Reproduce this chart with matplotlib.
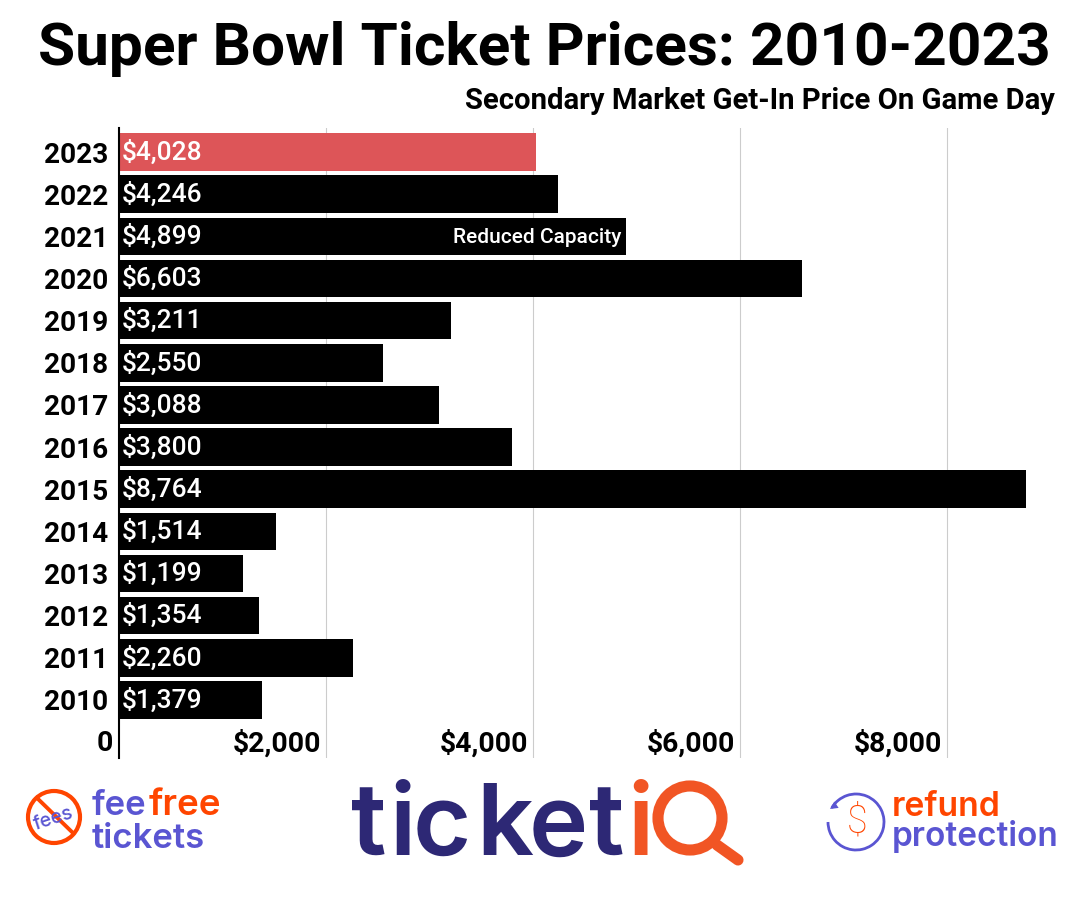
import matplotlib
matplotlib.use("Agg")
import matplotlib.pyplot as plt
from matplotlib.patches import Arc, Circle, FancyArrowPatch

years = [2023, 2022, 2021, 2020, 2019, 2018, 2017, 2016, 2015, 2014, 2013, 2012, 2011, 2010]
prices = [4028, 4246, 4899, 6603, 3211, 2550, 3088, 3800, 8764, 1514, 1199, 1354, 2260, 1379]
x_ticks = [2000, 4000, 6000, 8000]
x_tick_labels = ["$2,000", "$4,000", "$6,000", "$8,000"]

W, H = 1087, 900
BLUE = "#5a55d2"
ORANGE = "#ff4500"
NAVY = "#2d2875"
IQ_ORANGE = "#f15524"
LOGO_FONT = "Inter"

plt.rcParams["font.family"] = ["Roboto", "DejaVu Sans"]

fig = plt.figure(figsize=(W / 100, H / 100), dpi=100)

# main axes, placed in pixels
left, right, top, bottom = 119, 1060, 128, 758
ax = fig.add_axes([left / W, 1 - bottom / H, (right - left) / W, (bottom - top) / H])
ax.set_xlim(0, (right - left) / 0.1035)
ax.set_ylim(-1.376, 13.57)

positions = [y - 2010 for y in years]
colors = ["#dd5558" if y == 2023 else "black" for y in years]
ax.barh(positions, prices, height=0.89, color=colors, zorder=2)

ax.set_xticks(x_ticks)
ax.set_xticklabels([])
ax.set_yticks(positions)
ax.set_yticklabels(years, fontsize=20.2, fontweight="bold")
ax.tick_params(axis="y", length=0, pad=7.5)
ax.tick_params(axis="x", length=0)
ax.grid(axis="x", color="#cccccc", linewidth=0.8, zorder=0)
ax.set_axisbelow(True)
for side in ["top", "right", "bottom"]:
    ax.spines[side].set_visible(False)
ax.spines["left"].set_linewidth(1.5)

# price labels inside the bars
for pos, price in zip(positions, prices):
    ax.annotate("${:,}".format(price), (0, pos), xytext=(2, 0), textcoords="offset points",
                color="white", fontsize=19, fontweight="medium", va="center", ha="left", zorder=3)
ax.annotate("Reduced Capacity", (prices[2], positions[2]), xytext=(-3.5, -0.7), textcoords="offset points",
            color="white", fontsize=15, fontweight="medium", va="center", ha="right", zorder=3)

# x tick labels sit inside the plot, to the left of each grid line
for tick, label in zip(x_ticks, x_tick_labels):
    ax.annotate(label, (tick, -1), xytext=(-3.5, -0.7), textcoords="offset points",
                fontsize=20.4, fontweight="bold", va="center", ha="right", zorder=3)
ax.annotate("0", (0, -1), xytext=(-4, -0.7), textcoords="offset points", fontsize=20.4,
            fontweight="bold", va="center", ha="right", annotation_clip=False)

# overlay in pixel coords for titles and logos
ov = fig.add_axes([0, 0, 1, 1], zorder=5)
ov.set_xlim(0, W)
ov.set_ylim(H, 0)
ov.axis("off")
ov.patch.set_alpha(0)

ov.text(544, 49, "Super Bowl Ticket Prices: 2010-2023", fontsize=43.5, fontweight="bold",
        ha="center", va="center")
ov.text(1055, 101, "Secondary Market Get-In Price On Game Day", fontsize=21.1, fontweight="bold",
        ha="right", va="center")


def logo_text(x, y, s, size, color, weight="semibold", **kw):
    ov.text(x, y, s, fontsize=size, color=color, fontfamily=LOGO_FONT, fontweight=weight,
            ha="left", va="baseline", **kw)


# feefree tickets logo
ov.add_patch(Circle((54, 817), 26, fill=False, edgecolor=ORANGE, linewidth=3))
ov.plot([37, 73], [798, 833], color=ORANGE, linewidth=2.8)
ov.text(54, 819, "fees", fontsize=14, color=BLUE, fontfamily=LOGO_FONT, fontweight="medium",
        rotation=18, ha="center", va="center")
logo_text(92, 815, "fee", 25, BLUE)
logo_text(149, 815, "free", 26.5, ORANGE)
logo_text(92, 848, "tickets", 25, BLUE)

# ticketiQ logo, letter by letter because the wordmark is spaced wider than the font
for x, letter in zip([351, 389, 413, 476, 529, 589], "ticket"):
    logo_text(x, 855, letter, 72, NAVY)
logo_text(627, 855, "i", 72, IQ_ORANGE)
ov.add_patch(Circle((690, 818), 32, fill=False, edgecolor=IQ_ORANGE, linewidth=8))
ov.plot([717, 738], [845, 860], color=IQ_ORANGE, linewidth=8, solid_capstyle="round")

# refund protection logo
ov.add_patch(Arc((856, 822), 56, 56, theta1=-150, theta2=180, color=BLUE, linewidth=2))
ov.add_patch(FancyArrowPatch((848, 797), (830, 809), arrowstyle="-|>", mutation_scale=14,
                             color=BLUE, linewidth=0, shrinkA=0, shrinkB=0))
ov.text(857, 822, "$", fontsize=27, color=ORANGE, fontweight="light", ha="center", va="center")
logo_text(892, 816, "refund", 24.3, ORANGE)
logo_text(892, 846, "protection", 24, BLUE)

fig.savefig("out.png", dpi=100)
plt.close(fig)
